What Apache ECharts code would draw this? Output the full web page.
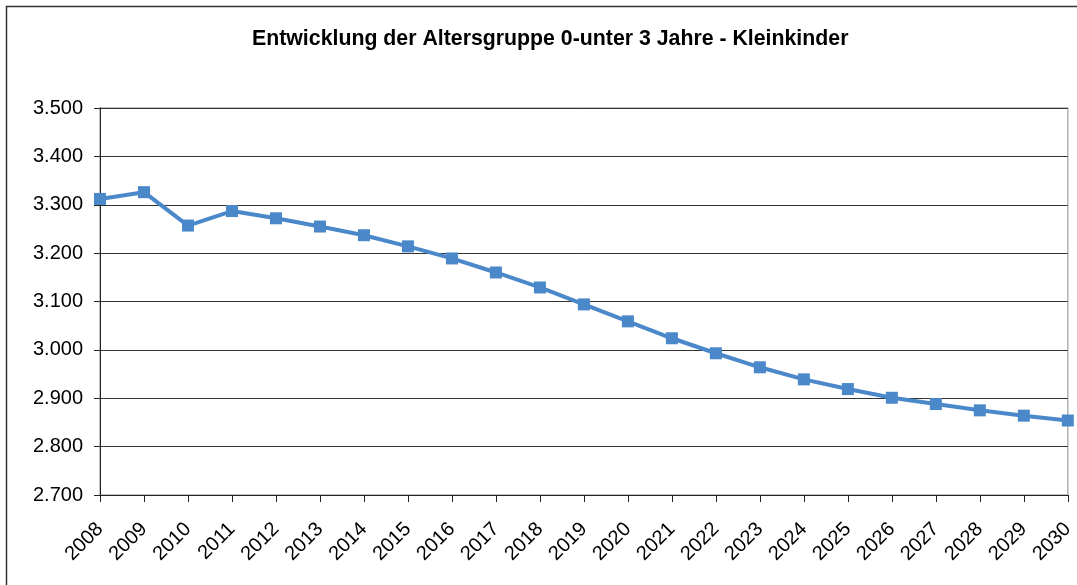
<!DOCTYPE html>
<html>
<head>
<meta charset="utf-8">
<script src="https://cdn.jsdelivr.net/npm/echarts@6/dist/echarts.min.js"></script>
<style>
html,body{margin:0;padding:0;background:#fff;}
#chart{width:1077px;height:585px;}
</style>
</head>
<body>
<div id="chart"></div>
<script>
const titleText = 'Entwicklung der Altersgruppe 0-unter 3 Jahre - Kleinkinder';
const years = ['2008','2009','2010','2011','2012','2013','2014','2015','2016','2017','2018','2019','2020','2021','2022','2023','2024','2025','2026','2027','2028','2029','2030'];
const values = [3312,3326,3257,3287,3272,3255,3237,3214,3189,3160,3129,3094,3059,3024,2993,2964,2939,2919,2901,2888,2875,2864,2854];
const yMin = 2700, yMax = 3500, yStep = 100;

const FONT = '"Liberation Sans", Arial, sans-serif';
const chart = echarts.init(document.getElementById('chart'), null, {renderer:'canvas'});
const fmt = v => (v/1000).toFixed(3);
chart.setOption({
  animation:false,
  backgroundColor:'#fff',
  textStyle:{fontFamily:FONT},
  title:{
    text:titleText, left:247, top:24,
    textStyle:{fontSize:21.3,fontWeight:'bold',color:'#000',fontFamily:FONT}
  },
  graphic:[{
    type:'rect', shape:{x:6.5,y:6.5,width:1200,height:700},
    style:{fill:null,stroke:'#333',lineWidth:1.5}, silent:true, z:-1
  }],
  grid:{left:100,right:9,top:108,bottom:90,show:true,borderColor:'#b0b0b0',borderWidth:1.5,backgroundColor:'transparent'},
  xAxis:{
    type:'category', data:years, boundaryGap:false,
    axisLine:{lineStyle:{color:'#222',width:1}},
    axisTick:{show:true,length:7,alignWithLabel:true,lineStyle:{color:'#222'}},
    axisLabel:{rotate:45,fontSize:20,color:'#000',margin:31,interval:0,fontFamily:FONT},
    splitLine:{show:false}
  },
  yAxis:{
    type:'value', min:yMin, max:yMax, interval:yStep,
    axisLine:{show:true,lineStyle:{color:'#222',width:1}},
    axisTick:{show:true,length:6,lineStyle:{color:'#222'}},
    axisLabel:{formatter:fmt,fontSize:20,color:'#000',margin:17,fontFamily:FONT},
    splitLine:{show:true,lineStyle:{color:'#333',width:1}}
  },
  series:[{
    type:'line', data:values,
    symbol:'rect', symbolSize:12,
    lineStyle:{color:'#4a88ca',width:4},
    itemStyle:{color:'#4a88ca'},
    clip:false
  }]
});
</script>
</body>
</html>
